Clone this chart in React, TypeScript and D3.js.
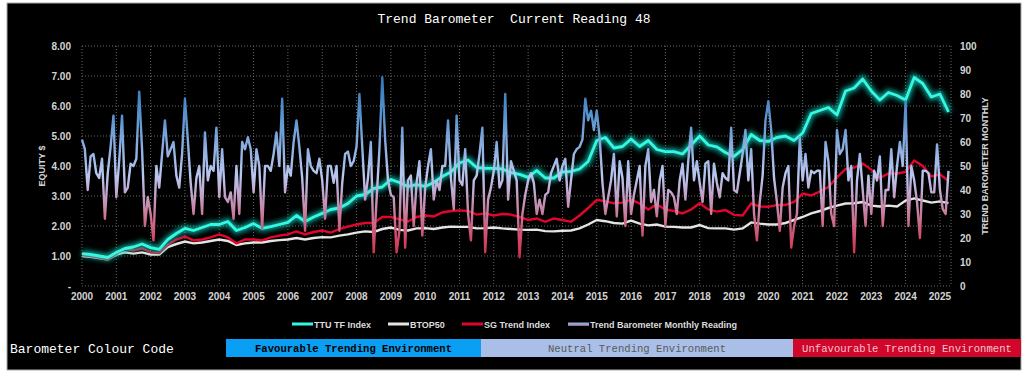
import { useRef, useEffect } from 'react'
import * as d3 from 'd3'

const W = 1024
const H = 373

const currentReading = 48
const yearTicks = d3.range(2000, 2026)
const equityTicks = d3.range(0, 9)
const barometerTicks = d3.range(0, 101, 10)
const legendLabels = ['TTU TF Index', 'BTOP50', 'SG Trend Index', 'Trend Barometer Monthly Reading']
const colourCodes = ['Favourable Trending Environment', 'Neutral Trending Environment', 'Unfavourable Trending Environment']

// monthly barometer reading, Jan 2000 .. Apr 2025
const barometer: number[] = [
  61, 57, 40, 54, 55, 47, 45, 53, 28, 47, 58, 71,
  37, 52, 71, 39, 41, 51, 50, 53, 81, 57, 25, 37,
  30, 19, 50, 41, 55, 69, 54, 57, 60, 46, 41, 55,
  78, 61, 43, 30, 45, 50, 30, 64, 44, 50, 48, 66,
  37, 57, 37, 35, 39, 28, 50, 30, 60, 57, 62, 57,
  39, 57, 50, 24, 50, 50, 48, 55, 64, 50, 78, 39,
  50, 46, 60, 69, 58, 45, 23, 57, 50, 48, 47, 53,
  44, 28, 50, 50, 43, 50, 23, 43, 55, 56, 50, 52,
  58, 80, 58, 36, 45, 60, 14, 36, 57, 87, 61, 44,
  38, 37, 14, 23, 66, 16, 44, 46, 25, 43, 52, 21,
  41, 50, 57, 36, 44, 40, 50, 50, 69, 45, 32, 71,
  44, 42, 57, 30, 19, 44, 46, 55, 66, 14, 36, 41,
  48, 60, 41, 44, 80, 36, 52, 48, 44, 12, 30, 38,
  44, 47, 43, 30, 36, 30, 38, 39, 47, 50, 53, 44,
  50, 53, 33, 44, 55, 57, 58, 61, 78, 69, 73, 65,
  73, 62, 43, 30, 37, 44, 55, 29, 52, 45, 25, 52,
  30, 38, 44, 50, 21, 50, 57, 35, 40, 29, 44, 50,
  25, 40, 39, 37, 30, 44, 51, 36, 52, 66, 44, 52,
  43, 35, 51, 52, 30, 51, 43, 37, 47, 45, 44, 66,
  40, 39, 47, 55, 65, 44, 57, 30, 19, 35, 46, 69,
  77, 65, 45, 35, 23, 41, 47, 50, 16, 25, 30, 62,
  44, 55, 41, 48, 47, 48, 48, 25, 60, 52, 30, 25,
  65, 55, 57, 65, 44, 50, 14, 44, 55, 40, 25, 46,
  30, 48, 44, 54, 25, 40, 40, 57, 37, 50, 60, 50,
  77, 25, 50, 44, 35, 20, 48, 48, 47, 39, 39, 59,
  40, 32, 30, 48,
]

// quarterly equity values (Jan, Apr, Jul, Oct), 2000 .. Apr 2025
const ttuIndex: number[] = [
  1.08, 1.05, 1.0, 0.95, 1.12, 1.25, 1.3, 1.4, 1.28, 1.22, 1.55, 1.75,
  1.92, 1.85, 1.95, 2.05, 2.05, 2.15, 1.85, 1.95, 2.08, 1.92, 1.98, 2.05,
  2.12, 2.35, 2.15, 2.3, 2.42, 2.55, 2.6, 2.75, 3.0, 3.05, 3.25, 3.3,
  3.55, 3.45, 3.32, 3.38, 3.32, 3.45, 3.65, 3.8, 4.1, 4.2, 3.95, 3.92,
  3.92, 3.9, 3.78, 3.72, 3.62, 3.85, 3.6, 3.6, 3.8, 3.82, 3.9, 4.15,
  4.85, 4.95, 4.6, 4.65, 4.9, 4.65, 4.85, 4.55, 4.48, 4.48, 4.4, 4.7,
  5.0, 4.7, 4.64, 4.45, 4.32, 4.55, 5.05, 4.85, 4.82, 4.95, 5.0, 4.85,
  5.1, 5.75, 5.85, 5.95, 5.7, 6.5, 6.6, 6.9, 6.5, 6.2, 6.45, 6.35,
  6.2, 6.95, 6.75, 6.3, 6.4, 5.8,
]
const btop50: number[] = [
  1.0, 0.97, 0.93, 0.88, 1.05, 1.12, 1.08, 1.12, 1.05, 1.05, 1.3, 1.4,
  1.48, 1.42, 1.45, 1.5, 1.55, 1.5, 1.37, 1.42, 1.45, 1.45, 1.5, 1.53,
  1.55, 1.6, 1.55, 1.6, 1.63, 1.62, 1.68, 1.72, 1.78, 1.82, 1.8, 1.9,
  1.95, 1.87, 1.85, 1.92, 1.93, 1.9, 1.95, 1.98, 1.97, 1.97, 1.92, 1.93,
  1.95, 1.92, 1.9, 1.88, 1.87, 1.88, 1.83, 1.82, 1.84, 1.85, 1.92, 2.05,
  2.2, 2.16, 2.1, 2.08, 2.18, 2.08, 2.02, 2.05, 1.98, 1.97, 1.95, 1.95,
  2.03, 1.93, 1.92, 1.92, 1.88, 1.92, 2.12, 2.08, 2.05, 2.05, 2.1, 2.2,
  2.3, 2.42, 2.5, 2.6, 2.68, 2.75, 2.76, 2.8, 2.68, 2.65, 2.68, 2.65,
  2.85, 2.92, 2.85, 2.78, 2.82, 2.76,
]
const sgTrend: number[] = [
  1.03, 1.0, 0.95, 0.88, 1.08, 1.25, 1.18, 1.25, 1.12, 1.1, 1.37, 1.55,
  1.65, 1.52, 1.55, 1.62, 1.72, 1.62, 1.42, 1.55, 1.55, 1.52, 1.62, 1.68,
  1.72, 1.82, 1.72, 1.8, 1.85, 1.78, 1.9, 1.98, 2.05, 2.1, 2.1, 2.3,
  2.3, 2.22, 2.15, 2.3, 2.35, 2.32, 2.45, 2.5, 2.52, 2.5, 2.38, 2.42,
  2.35, 2.4, 2.38, 2.3, 2.2, 2.25, 2.14, 2.25, 2.2, 2.14, 2.35, 2.6,
  2.87, 2.82, 2.76, 2.78, 2.87, 2.75, 2.55, 2.72, 2.55, 2.5, 2.42, 2.55,
  2.76, 2.55, 2.48, 2.53, 2.37, 2.35, 2.75, 2.65, 2.64, 2.7, 2.7, 2.8,
  3.08, 3.02, 3.15, 3.3, 3.62, 3.9, 3.95, 4.08, 3.88, 3.6, 3.75, 3.75,
  3.8, 4.18, 4.0, 3.65, 3.72, 3.5,
]

const FONT = '"Liberation Sans", Arial, sans-serif'
const MONO = '"Liberation Mono", "Courier New", monospace'

const App = () => {
  const ref = useRef<SVGSVGElement>(null)

  useEffect(() => {
    if (!ref.current) return
    const svg = d3.select(ref.current)
    svg.selectAll('*').remove()

    const left = 82
    const right = 951
    const top = 46
    const bottom = 286
    const x = d3.scaleLinear().domain([0, barometer.length - 1]).range([left, 948.5])
    const yL = d3.scaleLinear().domain([0, 8]).range([bottom, top])
    const yR = d3.scaleLinear().domain([0, 100]).range([bottom, top])

    svg.append('rect').attr('width', W).attr('height', H).attr('fill', '#fff')
    svg.append('rect')
      .attr('x', 7).attr('y', 3).attr('width', 1014).attr('height', 367)
      .attr('fill', '#000').attr('stroke', '#aaa').attr('stroke-width', 1)

    const defs = svg.append('defs')
    defs.append('filter').attr('id', 'glow')
      .attr('x', '-5%').attr('y', '-20%').attr('width', '110%').attr('height', '140%')
      .append('feGaussianBlur').attr('stdDeviation', 2.6)
    const grad = defs.append('linearGradient').attr('id', 'baroGrad')
      .attr('gradientUnits', 'userSpaceOnUse')
      .attr('x1', 0).attr('x2', 0).attr('y1', yR(90)).attr('y2', yR(10))
    const stops: [number, string][] = [
      [90, '#2a72b6'], [70, '#5b95d0'], [55, '#98b4e4'], [46, '#b9c7ef'],
      [38, '#c2a2c9'], [30, '#c97b9b'], [20, '#d04b6b'], [10, '#d6243f'],
    ]
    stops.forEach(([v, c]) => {
      grad.append('stop').attr('offset', (90 - v) / 80).attr('stop-color', c)
    })

    // title
    svg.append('text')
      .attr('x', 514).attr('y', 23).attr('text-anchor', 'middle')
      .attr('font-family', MONO).attr('font-size', 13).attr('fill', '#fff')
      .attr('xml:space', 'preserve')
      .text(`Trend Barometer  Current Reading ${currentReading}`)

    // grid
    const grid = svg.append('g').attr('stroke', '#6a6a6a').attr('stroke-dasharray', '1,2')
    grid.selectAll('line.h').data(equityTicks).enter().append('line')
      .attr('x1', left).attr('x2', right)
      .attr('y1', d => yL(d)).attr('y2', d => yL(d))
    grid.selectAll('line.v').data(yearTicks).enter().append('line')
      .attr('x1', d => x((d - 2000) * 12)).attr('x2', d => x((d - 2000) * 12))
      .attr('y1', top).attr('y2', bottom)
    grid.append('line').attr('x1', right).attr('x2', right).attr('y1', top).attr('y2', bottom)

    // axes labels
    const lab = svg.append('g').attr('font-family', FONT).attr('font-weight', 'bold')
      .attr('font-size', 10).attr('fill', '#d4d4d4')
    lab.selectAll('text.l').data(equityTicks).enter().append('text')
      .attr('x', 71).attr('y', d => yL(d) + 3.5).attr('text-anchor', 'end')
      .text(d => (d === 0 ? '-' : d3.format('.2f')(d)))
    lab.selectAll('text.r').data(barometerTicks).enter().append('text')
      .attr('x', 960).attr('y', d => yR(d) + 3.5)
      .text(d => d)
    lab.selectAll('text.x').data(yearTicks).enter().append('text')
      .attr('x', d => x((d - 2000) * 12)).attr('y', 300).attr('text-anchor', 'middle')
      .text(d => d)
    lab.append('text')
      .attr('transform', `translate(45,${(top + bottom) / 2}) rotate(-90)`)
      .attr('text-anchor', 'middle').attr('font-size', 9).text('EQUITY $')
    lab.append('text')
      .attr('transform', `translate(988,${(top + bottom) / 2}) rotate(-90)`)
      .attr('text-anchor', 'middle').attr('font-size', 9).text('TREND BAROMETER MONTHLY')

    // series
    const qLine = (s: d3.ScaleLinear<number, number>) =>
      d3.line<number>().x((_, i) => x(i * 3)).y(d => s(d))
    svg.append('path').attr('d', qLine(yL)(btop50))
      .attr('fill', 'none').attr('stroke', '#e4e4e4').attr('stroke-width', 2.4)
    svg.append('path').attr('d', qLine(yL)(sgTrend))
      .attr('fill', 'none').attr('stroke', '#e3062c').attr('stroke-width', 2.4)
    svg.append('path').attr('d', qLine(yL)(ttuIndex))
      .attr('fill', 'none').attr('stroke', '#12c9b6').attr('stroke-width', 7)
      .attr('stroke-opacity', 0.75).attr('filter', 'url(#glow)')
    svg.append('path').attr('d', qLine(yL)(ttuIndex))
      .attr('fill', 'none').attr('stroke', '#33f8e3').attr('stroke-width', 2.8)
      .attr('stroke-linejoin', 'round')
    const baroLine = d3.line<number>().x((_, i) => x(i)).y(d => yR(d))
    svg.append('path').attr('d', baroLine(barometer))
      .attr('fill', 'none').attr('stroke', 'url(#baroGrad)').attr('stroke-width', 2.4)
      .attr('stroke-linejoin', 'round')

    // legend
    const leg = svg.append('g').attr('font-family', FONT).attr('font-weight', 'bold')
      .attr('font-size', 9).attr('fill', '#dcdcdc')
    const legX = [292, 388, 462, 568]
    const legCol = ['#33f8e3', '#e4e4e4', '#e3062c', '#8fa9dc']
    legendLabels.forEach((t, i) => {
      leg.append('line').attr('x1', legX[i]).attr('x2', legX[i] + 21)
        .attr('y1', 324).attr('y2', 324).attr('stroke', legCol[i]).attr('stroke-width', 3)
      leg.append('text').attr('x', legX[i] + 22).attr('y', 327.5).text(t)
    })
    leg.append('line').attr('x1', 568).attr('x2', 589).attr('y1', 325.2).attr('y2', 325.2)
      .attr('stroke', '#c07c9a').attr('stroke-width', 1)

    // colour code bar
    svg.append('text').attr('x', 10).attr('y', 353)
      .attr('font-family', MONO).attr('font-size', 13).attr('fill', '#fff')
      .text('Barometer Colour Code')
    const boxX = [226, 481, 793, 1021]
    const boxFill = ['#0a9ff2', '#a9bfe8', '#d0062a']
    const boxText = ['#000', '#5a5a5a', '#f6c4cc']
    colourCodes.forEach((t, i) => {
      svg.append('rect').attr('x', boxX[i]).attr('y', 339)
        .attr('width', boxX[i + 1] - boxX[i]).attr('height', 18).attr('fill', boxFill[i])
      svg.append('text').attr('x', (boxX[i] + boxX[i + 1]) / 2).attr('y', 352)
        .attr('text-anchor', 'middle').attr('font-family', MONO).attr('font-size', 10.6)
        .attr('font-weight', i === 0 ? 'bold' : 'normal').attr('fill', boxText[i])
        .text(t)
    })
  }, [])

  return (
    <div style={{ position: 'absolute', left: 0, top: 0 }}>
      <svg ref={ref} width={W} height={H} style={{ display: 'block' }} />
    </div>
  )
}

export default App
